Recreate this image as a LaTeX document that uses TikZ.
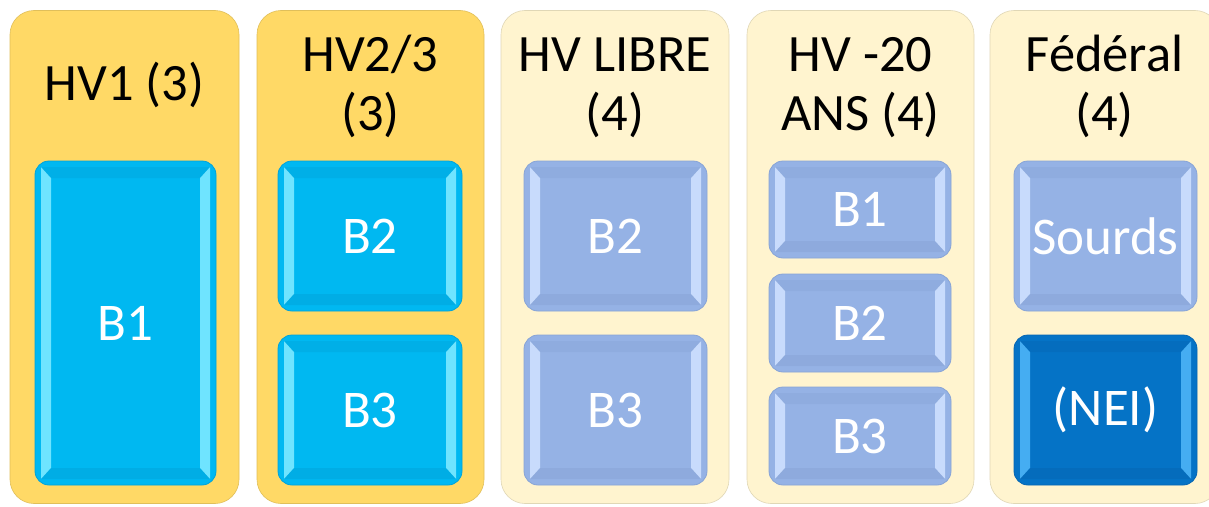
\documentclass[tikz,border=0pt]{standalone}
\usepackage{fontspec}
\setmainfont{Carlito}
\usetikzlibrary{calc}
\definecolor{gold}{HTML}{FFD966}
\definecolor{cream}{HTML}{FFF4CF}
\definecolor{cyanb}{HTML}{00B8F1}
\definecolor{cyanhi}{HTML}{6FE4FF}
\definecolor{cyanlo}{HTML}{00A3DA}
\definecolor{lblue}{HTML}{95B2E5}
\definecolor{lbluehi}{HTML}{C8DBFC}
\definecolor{lbluelo}{HTML}{88A4D6}
\definecolor{dblue}{HTML}{0573C6}
\definecolor{dbluehi}{HTML}{45ADF2}
\definecolor{dbluelo}{HTML}{0566B3}
\tikzset{
  colbox/.style={rounded corners=24pt, fill=#1, draw=#1!88!black, line width=0.6pt,
    minimum height=493pt, inner sep=0pt},
  headtxt/.style={anchor=base, inner sep=0pt, font=\fontsize{52.5}{60}\selectfont, text=black},
  bevbox/.style args={#1/#2/#3}{rounded corners=14pt, fill=#1, draw=#3, line width=0.8pt,
    inner sep=0pt, text=white, font=\fontsize{53}{60}\selectfont,
    path picture={
      \def\pb{path picture bounding box}
      \fill[#2, sharp corners] ($(\pb.north west)+(6,6)$) -- ($(\pb.north west)+(16,17)$)
        -- ($(\pb.south west)+(16,-17)$) -- ($(\pb.south west)+(6,-6)$) -- cycle;
      \fill[#2, sharp corners] ($(\pb.north east)+(-6,6)$) -- ($(\pb.north east)+(-16,17)$)
        -- ($(\pb.south east)+(-16,-17)$) -- ($(\pb.south east)+(-6,-6)$) -- cycle;
      \fill[#3, sharp corners, opacity=0.4] ($(\pb.north west)+(6,6)$) -- ($(\pb.north east)+(-6,6)$)
        -- ($(\pb.north east)+(-16,17)$) -- ($(\pb.north west)+(16,17)$) -- cycle;
      \fill[#3, sharp corners, opacity=0.5] ($(\pb.south west)+(6,-6)$) -- ($(\pb.south east)+(-6,-6)$)
        -- ($(\pb.south east)+(-16,-17)$) -- ($(\pb.south west)+(16,-17)$) -- cycle;
    }},
  cyanbox/.style={bevbox=cyanb/cyanhi/cyanlo},
  lbluebox/.style={bevbox=lblue/lbluehi/lbluelo},
  dbluebox/.style={bevbox=dblue/dbluehi/dbluelo}
}
\begin{document}
\begin{tikzpicture}[x=1pt,y=-1pt]
\useasboundingbox (0,0) rectangle (1209,506);
\fill[white] (0,0) rectangle (1209,506);
% columns
\node[colbox=gold, minimum width=229pt] (c1) at (124.5,257) {};
\node[colbox=gold, minimum width=227pt] (c2) at (370.5,257) {};
\node[colbox=cream, minimum width=228pt] (c3) at (615,257) {};
\node[colbox=cream, minimum width=227pt] (c4) at (860.5,257) {};
\node[colbox=cream, minimum width=229pt] (c5) at (1104.5,257) {};
% headers
\node[headtxt] (h1) at (124.5,100) {HV1 (3)};
\node[headtxt] (h2a) at (370.5,71) {HV2/3};
\node[headtxt] (h2b) at (370.5,130) {(3)};
\node[headtxt] (h3a) at (615,71) {HV LIBRE};
\node[headtxt] (h3b) at (615,130) {(4)};
\node[headtxt] (h4a) at (860.5,71) {HV -20};
\node[headtxt] (h4b) at (860.5,130) {ANS (4)};
\node[headtxt] (h5a) at (1104.5,71) {Fédéral};
\node[headtxt] (h5b) at (1104.5,130) {(4)};
% inner boxes
\node[cyanbox, minimum width=181pt, minimum height=324pt] (b11) at (125.5,323) {B1};
\node[cyanbox, minimum width=184pt, minimum height=150pt] (b22) at (370,236) {B2};
\node[cyanbox, minimum width=184pt, minimum height=150pt] (b23) at (370,410) {B3};
\node[lbluebox, minimum width=183pt, minimum height=150pt] (b32) at (615.5,236) {B2};
\node[lbluebox, minimum width=183pt, minimum height=150pt] (b33) at (615.5,410) {B3};
\node[lbluebox, minimum width=182pt, minimum height=97pt] (b41) at (860,209.5) {B1};
\node[lbluebox, minimum width=182pt, minimum height=98pt] (b42) at (860,323) {B2};
\node[lbluebox, minimum width=182pt, minimum height=98pt] (b43) at (860,436) {B3};
\node[lbluebox, minimum width=183pt, minimum height=150pt] (b51) at (1105.5,236) {Sourds};
\node[dbluebox, minimum width=183pt, minimum height=150pt] (b52) at (1105.5,410) {(NEI)};
\end{tikzpicture}
\end{document}
